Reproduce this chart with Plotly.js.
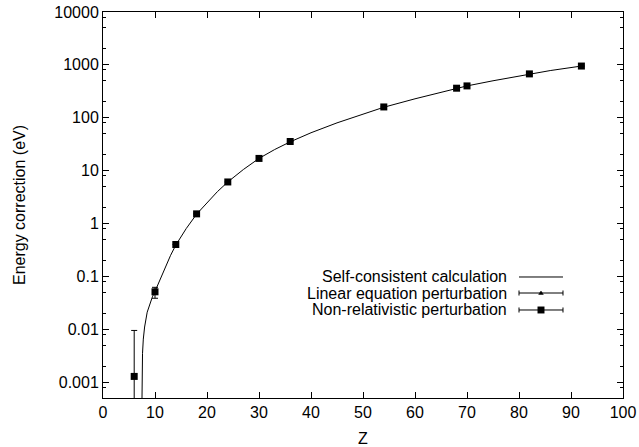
<!DOCTYPE html>
<html>
<head>
<meta charset="utf-8">
<script src="https://cdn.plot.ly/plotly-3.0.1.min.js"></script>
<style>
  html, body { margin: 0; padding: 0; background: #ffffff; }
  #chart { width: 639px; height: 447px; }
</style>
</head>
<body>
<div id="chart"></div>
<script>
// ---- Data ----
// Self-consistent calculation (curve)
const curveZ = [7.42, 7.45, 7.5, 7.6, 7.75, 8, 8.5, 9, 9.5, 10, 11, 12, 13, 14, 16, 18, 20, 22, 24, 27, 30, 33, 36, 40, 45, 50, 54, 60, 65, 68, 70, 75, 80, 82, 86, 92];
const curveE = [0.0001, 0.0006, 0.0015, 0.0035, 0.0065, 0.011, 0.021, 0.031, 0.041, 0.052, 0.09, 0.15, 0.25, 0.39, 0.8, 1.5, 2.5, 4.0, 6.1, 10.5, 17, 25, 35, 52, 80, 118, 158, 228, 300, 360, 400, 500, 620, 670, 780, 950];

// Non-relativistic perturbation (points with error bars)
const pointZ = [6, 10, 14, 18, 24, 30, 36, 54, 68, 70, 82, 92];
const pointE = [0.00128, 0.051, 0.40, 1.52, 6.1, 17.0, 35.5, 160, 362, 400, 675, 950];
const errPlus = [0.0082, 0.011, 0, 0, 0, 0, 0, 0, 0, 0, 0, 0];
const errMinus = [0.0012, 0.0125, 0, 0, 0, 0, 0, 0, 0, 0, 0, 0];

// Axis ticks
const xTickVals = [0, 10, 20, 30, 40, 50, 60, 70, 80, 90, 100];
const yTickVals = [0.001, 0.01, 0.1, 1, 10, 100, 1000, 10000];
const yTickText = ["0.001", "0.01", "0.1", "1", "10", "100", "1000", "10000"];
const yMinorVals = [0.0005, 0.0008, 0.002, 0.005, 0.008, 0.02, 0.05, 0.08, 0.2, 0.5, 0.8, 2, 5, 8, 20, 50, 80, 200, 500, 800, 2000, 5000, 8000];

// Legend entries
const legendLabels = ["Self-consistent calculation", "Linear equation perturbation", "Non-relativistic perturbation"];

// ---- Plot ----
const FONT = "Liberation Sans, Arial, Helvetica, sans-serif";

const traces = [
  {
    x: curveZ, y: curveE, type: "scatter", mode: "lines",
    line: { color: "#000000", width: 1 },
    showlegend: false, hoverinfo: "skip"
  },
  {
    x: pointZ, y: pointE, type: "scatter", mode: "markers",
    marker: { symbol: "square", size: 7, color: "#000000", line: { width: 0 } },
    error_y: { type: "data", symmetric: false, array: errPlus, arrayminus: errMinus,
               color: "#000000", thickness: 1, width: 3 },
    showlegend: false
  }
];

// Custom legend (text left of symbol, like the original)
const legY = [0.3135, 0.272, 0.228];
const annotations = legendLabels.map((t, i) => ({
  xref: "paper", yref: "paper", x: 0.781, y: legY[i],
  xanchor: "right", yanchor: "middle", showarrow: false,
  text: t, font: { family: FONT, size: 16, color: "#000000" }
}));
const lx0 = 0.800, lx1 = 0.8846, lxm = (lx0 + lx1) / 2;
const capH = 0.0065;
const shapes = [];
legY.forEach((yy, i) => {
  shapes.push({ type: "line", xref: "paper", yref: "paper", x0: lx0, x1: lx1, y0: yy, y1: yy,
                line: { color: "#000000", width: 1 } });
  if (i > 0) {
    shapes.push({ type: "line", xref: "paper", yref: "paper", x0: lx0, x1: lx0, y0: yy - capH, y1: yy + capH,
                  line: { color: "#000000", width: 1 } });
    shapes.push({ type: "line", xref: "paper", yref: "paper", x0: lx1, x1: lx1, y0: yy - capH, y1: yy + capH,
                  line: { color: "#000000", width: 1 } });
  }
});
// triangle glyph (Linear) and square glyph (Non-relativistic)
const tw = 0.0045, th = 0.0075;
shapes.push({ type: "path", xref: "paper", yref: "paper",
  path: `M ${lxm - tw} ${legY[1] - th * 0.5} L ${lxm + tw} ${legY[1] - th * 0.5} L ${lxm} ${legY[1] + th * 0.7} Z`,
  fillcolor: "#000000", line: { color: "#000000", width: 0.5 } });
const sw = 0.0067, sh = 0.009;
shapes.push({ type: "rect", xref: "paper", yref: "paper",
  x0: lxm - sw, x1: lxm + sw, y0: legY[2] - sh, y1: legY[2] + sh,
  fillcolor: "#000000", line: { width: 0 } });

const layout = {
  width: 639, height: 447,
  margin: { l: 103, r: 16, t: 12, b: 49, pad: 0 },
  paper_bgcolor: "#ffffff", plot_bgcolor: "#ffffff",
  font: { family: FONT, size: 16, color: "#000000" },
  showlegend: false,
  xaxis: {
    range: [0, 100], tickmode: "array", tickvals: xTickVals,
    ticks: "inside", ticklen: 6, tickwidth: 1, tickcolor: "#000000",
    showline: true, linecolor: "#000000", linewidth: 1, mirror: "ticks",
    showgrid: false, zeroline: false,
    tickfont: { family: FONT, size: 16, color: "#000000" },
    title: { text: "Z", font: { family: FONT, size: 16, color: "#000000" }, standoff: 14 }
  },
  yaxis: {
    type: "log", range: [Math.log10(0.0005), 4],
    tickmode: "array", tickvals: yTickVals, ticktext: yTickText,
    ticks: "inside", ticklen: 6, tickwidth: 1, tickcolor: "#000000",
    showline: true, linecolor: "#000000", linewidth: 1, mirror: "ticks",
    showgrid: false, zeroline: false,
    minor: { tickmode: "array", tickvals: yMinorVals, ticks: "inside", ticklen: 3, tickwidth: 1, tickcolor: "#000000", showgrid: false },
    tickfont: { family: FONT, size: 16, color: "#000000" },
    title: { text: "Energy correction (eV)", font: { family: FONT, size: 16, color: "#000000" }, standoff: 24 }
  },
  annotations: annotations,
  shapes: shapes
};

Plotly.newPlot("chart", traces, layout, { displayModeBar: false, staticPlot: true });
</script>
</body>
</html>
